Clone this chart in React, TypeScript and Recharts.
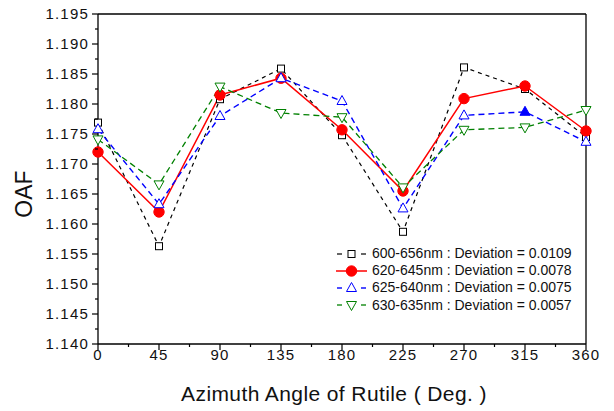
import React from 'react';
import { LineChart, Line, XAxis, YAxis, ReferenceLine, Legend } from 'recharts';

const FONT = '"Liberation Sans", Arial, sans-serif';

const angles = [0, 45, 90, 135, 180, 225, 270, 315, 360];
const s600 = [1.1769, 1.1563, 1.1808, 1.1859, 1.1748, 1.1587, 1.1861, 1.1825, 1.1745];
const s620 = [1.1720, 1.1620, 1.1815, 1.1843, 1.1757, 1.1655, 1.1809, 1.1830, 1.1755];
const s625 = [1.1758, 1.1633, 1.1780, 1.1843, 1.1805, 1.1626, 1.1781, 1.1787, 1.1737];
const s630 = [1.1741, 1.1666, 1.1829, 1.1785, 1.1778, 1.1661, 1.1757, 1.1761, 1.1790];

const seriesNames = [
  '600-656nm : Deviation = 0.0109',
  '620-645nm : Deviation = 0.0078',
  '625-640nm : Deviation = 0.0075',
  '630-635nm : Deviation = 0.0057',
];

const xMajorTicks = [0, 45, 90, 135, 180, 225, 270, 315, 360];
const xMinorTicks = [22.5, 67.5, 112.5, 157.5, 202.5, 247.5, 292.5, 337.5];
const yMajorTicks = [1.14, 1.145, 1.15, 1.155, 1.16, 1.165, 1.17, 1.175, 1.18, 1.185, 1.19, 1.195];
const yMinorTicks = [1.1425, 1.1475, 1.1525, 1.1575, 1.1625, 1.1675, 1.1725, 1.1775, 1.1825, 1.1875, 1.1925];

const data = angles.map((a, i) => ({ angle: a, s600: s600[i], s620: s620[i], s625: s625[i], s630: s630[i] }));

type Def = { key: string; name: string; color: string; dash?: string; width: number; marker: string; filledAt?: number[] };

const seriesDefs: Def[] = [
  { key: 's600', name: seriesNames[0], color: '#000000', dash: '4 4', width: 1.2, marker: 'square' },
  { key: 's620', name: seriesNames[1], color: '#ff0000', width: 1.5, marker: 'circle' },
  { key: 's625', name: seriesNames[2], color: '#0000ff', dash: '6 4', width: 1.4, marker: 'up', filledAt: [315] },
  { key: 's630', name: seriesNames[3], color: '#008000', dash: '6 4', width: 1.3, marker: 'down' },
];

function Marker({ kind, cx, cy, color, filled }: { kind: string; cx: number; cy: number; color: string; filled?: boolean }) {
  if (cx == null || cy == null) return null;
  switch (kind) {
    case 'square':
      return <rect x={cx - 3.5} y={cy - 3.5} width={7} height={7} fill={filled ? color : '#fff'} stroke={color} strokeWidth={1} />;
    case 'circle':
      return <circle cx={cx} cy={cy} r={5.2} fill={color} stroke={color} strokeWidth={1} />;
    case 'up':
      return <polygon points={`${cx},${cy - 5.5} ${cx - 5},${cy + 3.5} ${cx + 5},${cy + 3.5}`} fill={filled ? color : '#fff'} stroke={color} strokeWidth={1} />;
    case 'down':
      return <polygon points={`${cx},${cy + 5.5} ${cx - 5},${cy - 3.5} ${cx + 5},${cy - 3.5}`} fill={filled ? color : '#fff'} stroke={color} strokeWidth={1} />;
    default:
      return null;
  }
}

const isIn = (list: number[], v: number) => list.some((t) => Math.abs(t - v) < 1e-9);

const XTick = (props: any) => {
  const { x, y, payload } = props;
  const v = payload.value;
  if (isIn(xMajorTicks, v)) {
    return (
      <g>
        <line x1={x} y1={y} x2={x} y2={y + 6} stroke="#000" strokeWidth={1.2} />
        <text x={x} y={y + 16} textAnchor="middle" fontFamily={FONT} fontSize={15} letterSpacing={1.2} fill="#111">{String(v)}</text>
      </g>
    );
  }
  return <line x1={x} y1={y} x2={x} y2={y + 3} stroke="#000" strokeWidth={1.2} />;
};

const YTick = (props: any) => {
  const { x, y, payload } = props;
  const v = payload.value;
  if (isIn(yMajorTicks, v)) {
    return (
      <g>
        <line x1={x - 6} y1={y} x2={x} y2={y} stroke="#000" strokeWidth={1.2} />
        <text x={x - 9} y={y} dy="0.36em" textAnchor="end" fontFamily={FONT} fontSize={15} letterSpacing={1.2} fill="#111">{v.toFixed(3)}</text>
      </g>
    );
  }
  return <line x1={x - 3} y1={y} x2={x} y2={y} stroke="#000" strokeWidth={1.2} />;
};

const renderLegend = () => (
  <div style={{ fontFamily: FONT, fontSize: 14, color: '#111' }}>
    {seriesDefs.map((d) => (
      <div key={d.key} style={{ display: 'flex', alignItems: 'center', height: 17.2 }}>
        <svg width={31} height={14} style={{ display: 'block', overflow: 'visible' }}>
          {d.dash ? (
            <g>
              <line x1={1} y1={7} x2={6} y2={7} stroke={d.color} strokeWidth={d.width} />
              <line x1={25} y1={7} x2={30} y2={7} stroke={d.color} strokeWidth={d.width} />
            </g>
          ) : (
            <line x1={0} y1={7} x2={31} y2={7} stroke={d.color} strokeWidth={d.width} />
          )}
          <Marker kind={d.marker} cx={15.5} cy={7} color={d.color} />
        </svg>
        <span style={{ marginLeft: 5, whiteSpace: 'nowrap', lineHeight: '17px' }}>{d.name}</span>
      </div>
    ))}
  </div>
);

export default function App() {
  const allX = [...xMajorTicks, ...xMinorTicks].sort((a, b) => a - b);
  const allY = [...yMajorTicks, ...yMinorTicks].sort((a, b) => a - b);
  return (
    <LineChart width={606} height={403} data={data} margin={{ top: 6, right: 28, left: 0, bottom: 0 }}>
      <XAxis
        dataKey="angle"
        type="number"
        domain={[0, 360]}
        ticks={allX}
        interval={0}
        tickSize={0}
        tickMargin={0}
        tickLine={false}
        tick={<XTick />}
        axisLine={{ stroke: '#000', strokeWidth: 1.3 }}
        height={67}
        label={{ value: 'Azimuth Angle of Rutile ( Deg. )', position: 'insideBottom', offset: 10, dx: -8, fontSize: 21, fontFamily: FONT, fill: '#111', letterSpacing: 0.4 }}
      />
      <YAxis
        type="number"
        domain={[1.14, 1.195]}
        allowDataOverflow
        ticks={allY}
        interval={0}
        tickSize={0}
        tickMargin={0}
        tickLine={false}
        tick={<YTick />}
        axisLine={{ stroke: '#000', strokeWidth: 1.3 }}
        width={90}
        label={{ value: 'OAF', position: 'center', angle: -90, dx: -29, dy: 15, fontSize: 23, fontFamily: FONT, fill: '#111' }}
      />
      <ReferenceLine y={1.195} stroke="#000" strokeWidth={1.3} />
      <ReferenceLine x={360} stroke="#000" strokeWidth={1.3} />
      {seriesDefs.map((d) => (
        <Line
          key={d.key}
          dataKey={d.key}
          name={d.name}
          type="linear"
          stroke={d.color}
          strokeWidth={d.width}
          strokeDasharray={d.dash}
          isAnimationActive={false}
          activeDot={false}
          dot={(p: any) => (
            <Marker
              key={`${d.key}-${p.index}`}
              kind={d.marker}
              cx={p.cx}
              cy={p.cy}
              color={d.color}
              filled={!!d.filledAt && isIn(d.filledAt, p.payload.angle)}
            />
          )}
        />
      ))}
      <Legend
        layout="vertical"
        align="center"
        verticalAlign="middle"
        content={renderLegend}
        wrapperStyle={{ left: 328, top: 237, width: 270 }}
      />
    </LineChart>
  );
}
